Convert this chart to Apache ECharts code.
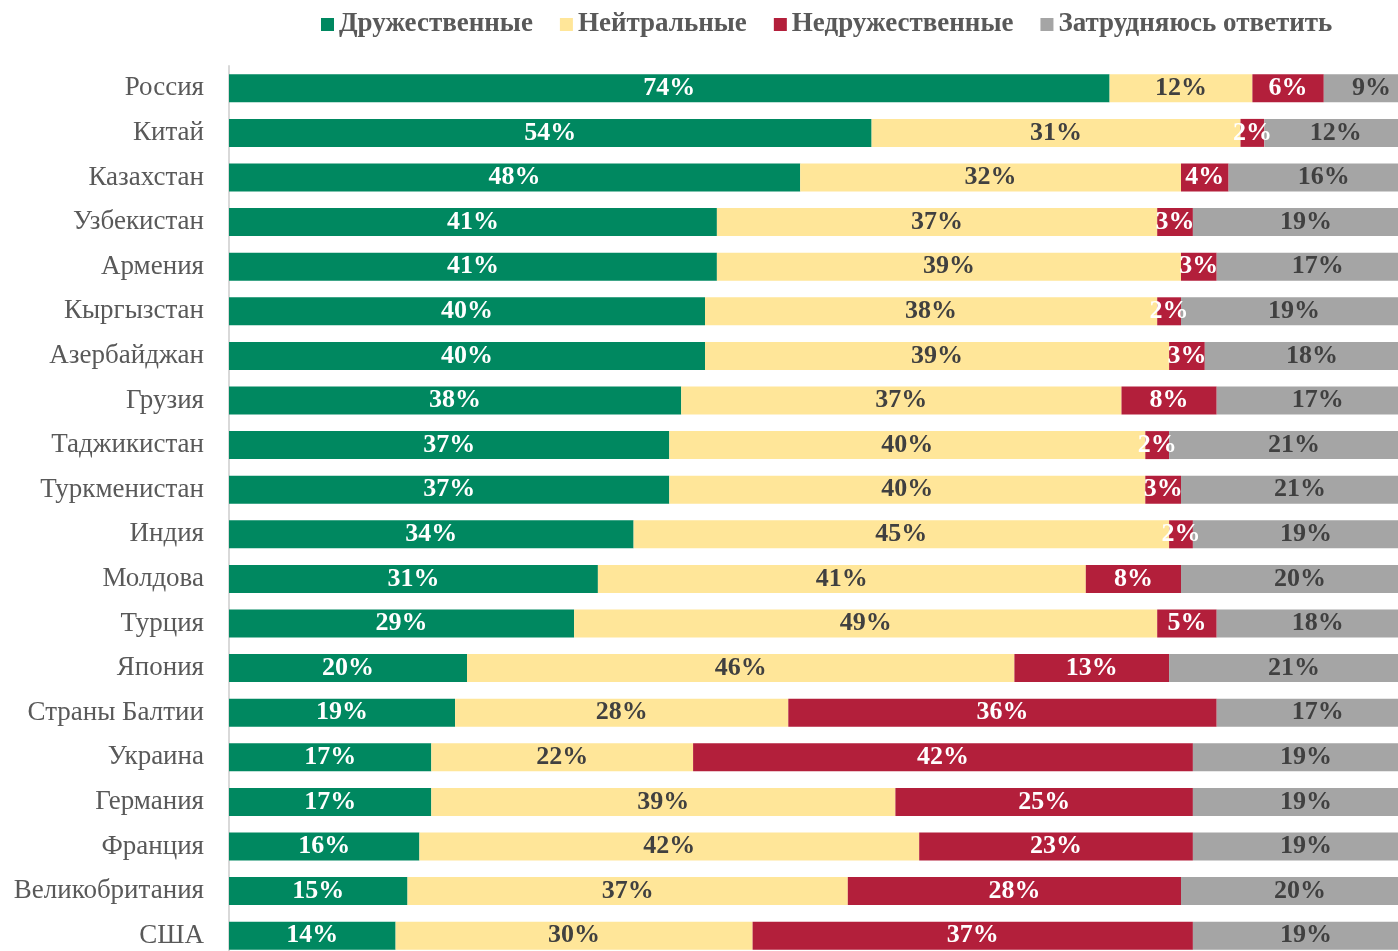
<!DOCTYPE html>
<html>
<head>
<meta charset="UTF-8">
<title>Отношение к странам</title>
<script src="https://cdn.jsdelivr.net/npm/echarts@6/dist/echarts.min.js"></script>
<style>
html, body { margin: 0; padding: 0; background: #fff; overflow: hidden; }
/* полотно чуть шире окна: в оригинале серые полосы обрезаны справа */
#main { width: 1440px; height: 970px; }
</style>
</head>
<body>
<div id="main"></div>
<script type="text/javascript">
// страны (сверху вниз)
var countries = ['Россия', 'Китай', 'Казахстан', 'Узбекистан', 'Армения', 'Кыргызстан',
    'Азербайджан', 'Грузия', 'Таджикистан', 'Туркменистан', 'Индия', 'Молдова', 'Турция',
    'Япония', 'Страны Балтии', 'Украина', 'Германия', 'Франция', 'Великобритания', 'США'];

// доли ответов, %
var friendly   = [74, 54, 48, 41, 41, 40, 40, 38, 37, 37, 34, 31, 29, 20, 19, 17, 17, 16, 15, 14];
var neutral    = [12, 31, 32, 37, 39, 38, 39, 37, 40, 40, 45, 41, 49, 46, 28, 22, 39, 42, 37, 30];
var unfriendly = [6, 2, 4, 3, 3, 2, 3, 8, 2, 3, 2, 8, 5, 13, 36, 42, 25, 23, 28, 37];
var hardToSay  = [9, 12, 16, 19, 17, 19, 18, 17, 21, 21, 19, 20, 18, 21, 17, 19, 19, 19, 20, 19];

var seriesNames = ['Дружественные', 'Нейтральные', 'Недружественные', 'Затрудняюсь ответить'];
var colors = ['#008860', '#FFE699', '#B31F3B', '#A5A5A5'];
var labelColors = ['#ffffff', '#404040', '#ffffff', '#404040'];

var myChart = echarts.init(document.getElementById('main'));

function makeSeries(i, data) {
    return {
        name: seriesNames[i],
        type: 'bar',
        stack: 'total',
        barWidth: 28,
        data: data,
        itemStyle: { color: colors[i] },
        label: {
            show: true,
            position: 'inside',
            formatter: '{c}%',
            color: labelColors[i],
            fontFamily: 'Liberation Serif',
            fontWeight: 'bold',
            fontSize: 26
        }
    };
}

var option = {
    animation: false,
    legend: {
        top: 6,
        left: 316,
        itemWidth: 13,
        itemHeight: 13,
        itemGap: 27,
        icon: 'rect',
        textStyle: {
            fontFamily: 'Liberation Serif',
            fontWeight: 'bold',
            fontSize: 27,
            color: '#595959'
        },
        data: seriesNames
    },
    grid: {
        left: 229,
        top: 66,
        width: 1190,
        height: 892
    },
    xAxis: {
        type: 'value',
        min: 0,
        max: 100,
        show: false
    },
    yAxis: {
        type: 'category',
        inverse: true,
        data: countries,
        axisTick: { show: false },
        axisLine: { lineStyle: { color: '#D9D9D9', width: 2 } },
        axisLabel: {
            margin: 25,
            fontFamily: 'Liberation Serif',
            fontSize: 27,
            color: '#595959'
        }
    },
    series: [
        makeSeries(0, friendly),
        makeSeries(1, neutral),
        makeSeries(2, unfriendly),
        makeSeries(3, hardToSay)
    ]
};

myChart.setOption(option);
</script>
</body>
</html>
